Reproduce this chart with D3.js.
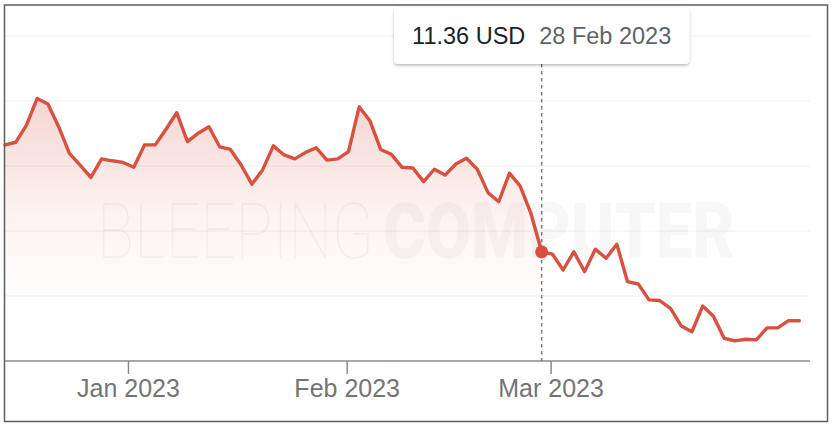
<!DOCTYPE html>
<html>
<head>
<meta charset="utf-8">
<script src="https://cdn.jsdelivr.net/npm/d3@7"></script>
<style>
  html, body { margin: 0; padding: 0; background: #fff; }
  svg { display: block; }
</style>
</head>
<body>
<svg id="chart" width="834" height="428"></svg>
<script>
// ---- data (trading days, closing price in USD) ----
const dates = [
  "2022-12-14","2022-12-15","2022-12-16","2022-12-19","2022-12-20","2022-12-21","2022-12-22","2022-12-23","2022-12-27","2022-12-28","2022-12-29","2022-12-30",
  "2023-01-03","2023-01-04","2023-01-05","2023-01-06","2023-01-09","2023-01-10","2023-01-11","2023-01-12","2023-01-13","2023-01-17","2023-01-18","2023-01-19","2023-01-20","2023-01-23","2023-01-24","2023-01-25","2023-01-26","2023-01-27","2023-01-30","2023-01-31",
  "2023-02-01","2023-02-02","2023-02-03","2023-02-06","2023-02-07","2023-02-08","2023-02-09","2023-02-10","2023-02-13","2023-02-14","2023-02-15","2023-02-16","2023-02-17","2023-02-21","2023-02-22","2023-02-23","2023-02-24","2023-02-27","2023-02-28",
  "2023-03-01","2023-03-02","2023-03-03","2023-03-06","2023-03-07","2023-03-08","2023-03-09","2023-03-10","2023-03-13","2023-03-14","2023-03-15","2023-03-16","2023-03-17","2023-03-20","2023-03-21","2023-03-22","2023-03-23","2023-03-24","2023-03-27","2023-03-28","2023-03-29","2023-03-30","2023-03-31",
  "2023-04-03"
];
const prices = [
  14.65, 14.73, 15.26, 16.08, 15.91, 15.21, 14.39, 14.03, 13.65, 14.22, 14.16, 14.11,
  13.96, 14.65, 14.65, 15.13, 15.64, 14.75, 15.01, 15.21, 14.59, 14.51, 14.03, 13.44, 13.88, 14.62, 14.34, 14.22, 14.42, 14.56, 14.18, 14.22,
  14.44, 15.82, 15.39, 14.51, 14.36, 13.96, 13.94, 13.52, 13.90, 13.72, 14.06, 14.24, 13.90, 13.18, 12.90, 13.78, 13.38, 12.54, 11.36,
  11.29, 10.80, 11.36, 10.75, 11.44, 11.16, 11.59, 10.44, 10.37, 9.88, 9.86, 9.62, 9.08, 8.90, 9.69, 9.38, 8.70, 8.62, 8.67, 8.65, 9.02, 9.02, 9.24,
  9.24
];
const gridValues = [10, 12, 14, 16, 18];
const yDomain = [8, 18];
const tickMonths = ["2023-01-01", "2023-02-01", "2023-03-01"];
const hoverDate = "2023-02-28";
const currency = "USD";
const watermarkLight = "BLEEPING";
const watermarkBold = "COMPUTER";

// ---- layout ----
const W = 834, H = 428;
const plotLeft = 5, plotRight = 810, axisY = 361, plotTop = 36;
const lineColor = "#d8513f";

const svg = d3.select("#chart");
const parseDay = s => new Date(s + "T04:00:00");
const parseMonth = s => new Date(s + "T00:00:00");
const dateObjs = dates.map(parseDay);
const data = dateObjs.map((d, i) => ({ date: d, value: prices[i], i }));

// index-based (trading-day) x positions, mapped via a polylinear time scale
const step = (plotRight - plotLeft) / dates.length;
const x = d3.scaleTime()
  .domain(dateObjs)
  .range(dateObjs.map((d, i) => plotLeft + i * step));
const y = d3.scaleLinear().domain(yDomain).range([axisY, plotTop]);

const defs = svg.append("defs");
const grad = defs.append("linearGradient")
  .attr("id", "areaGrad").attr("gradientUnits", "userSpaceOnUse")
  .attr("x1", 0).attr("x2", 0).attr("y1", y(16.1)).attr("y2", y(9.6));
grad.append("stop").attr("offset", 0).attr("stop-color", lineColor).attr("stop-opacity", 0.24);
grad.append("stop").attr("offset", 0.55).attr("stop-color", lineColor).attr("stop-opacity", 0.07);
grad.append("stop").attr("offset", 1).attr("stop-color", lineColor).attr("stop-opacity", 0);

const shadow = defs.append("filter").attr("id", "shadow")
  .attr("x", "-10%").attr("y", "-30%").attr("width", "120%").attr("height", "180%");
shadow.append("feDropShadow").attr("dx", 0).attr("dy", 1.5).attr("stdDeviation", 1.6)
  .attr("flood-color", "#000").attr("flood-opacity", 0.28);

// background
svg.append("rect").attr("width", W).attr("height", H).attr("fill", "#fff");

// gridlines
svg.append("g").selectAll("line").data(gridValues).join("line")
  .attr("x1", plotLeft).attr("x2", plotRight)
  .attr("y1", d => y(d)).attr("y2", d => y(d))
  .attr("stroke", "#efefef").attr("stroke-width", 1);

// watermark: two words, each squeezed horizontally to its width
function watermarkWord(str, left, width, weight, opacity) {
  const t = svg.append("text")
    .attr("font-family", "Roboto, 'Open Sans', sans-serif")
    .attr("font-size", 78).attr("font-weight", weight)
    .attr("fill", "#000").attr("fill-opacity", opacity)
    .attr("pointer-events", "none")
    .text(str);
  const natural = t.node().getComputedTextLength();
  t.attr("transform", `translate(${left},258) scale(${width / natural},1)`);
}
watermarkWord(watermarkLight, 97, 277, 100, 0.04);
watermarkWord(watermarkBold, 383, 352, 900, 0.032);

// hovered point
const hoverIdx = dates.indexOf(hoverDate);
const hover = data[hoverIdx];

// area up to hovered point
const area = d3.area().x(d => x(d.date)).y0(axisY).y1(d => y(d.value));
svg.append("path").datum(data.slice(0, hoverIdx + 1))
  .attr("d", area).attr("fill", "url(#areaGrad)");

// x axis
const xAxis = d3.axisBottom(x)
  .tickValues(tickMonths.map(parseMonth))
  .tickFormat(d3.timeFormat("%b %Y"))
  .tickSize(13).tickPadding(5).tickSizeOuter(0);
const gx = svg.append("g").attr("transform", `translate(0,${axisY})`).call(xAxis);
gx.select(".domain").attr("stroke", "#8a8a8a").attr("stroke-width", 1.5)
  .attr("d", `M${plotLeft},0H${plotRight}`);
gx.selectAll(".tick line").attr("stroke", "#8a8a8a").attr("stroke-width", 1.5);
gx.selectAll(".tick text")
  .attr("fill", "#747474")
  .attr("font-family", "'Liberation Sans', Arial, Helvetica, sans-serif")
  .attr("font-size", 25);

// hover dashed line
const hx = x(hover.date);
svg.append("line")
  .attr("x1", hx).attr("x2", hx).attr("y1", 64).attr("y2", axisY)
  .attr("stroke", "#7a7a7a").attr("stroke-width", 1.5).attr("stroke-dasharray", "3.5,3.5");

// price line
const line = d3.line().x(d => x(d.date)).y(d => y(d.value));
svg.append("path").datum(data)
  .attr("d", line).attr("fill", "none")
  .attr("stroke", lineColor).attr("stroke-width", 3.4)
  .attr("stroke-linejoin", "round").attr("stroke-linecap", "round");

// hover marker
svg.append("circle").attr("cx", hx).attr("cy", y(hover.value)).attr("r", 6.5).attr("fill", lineColor);

// tooltip
const tip = svg.append("g");
const tipBox = tip.append("rect")
  .attr("y", 8).attr("height", 56).attr("rx", 4)
  .attr("fill", "#fff").attr("filter", "url(#shadow)");
const fontTip = "'Liberation Sans', Arial, Helvetica, sans-serif";
const t1 = tip.append("text").attr("y", 44)
  .attr("font-family", fontTip).attr("font-size", 23.5).attr("fill", "#202124")
  .text(d3.format(".2f")(hover.value) + " " + currency);
const t2 = tip.append("text").attr("y", 44)
  .attr("font-family", fontTip).attr("font-size", 23.5).attr("fill", "#5f6368")
  .text(d3.timeFormat("%-d %b %Y")(hover.date));
const padX = 18, gap = 14;
const w1 = t1.node().getComputedTextLength();
const w2 = t2.node().getComputedTextLength();
const boxW = padX * 2 + w1 + gap + w2;
const boxX = hx - boxW / 2;
tipBox.attr("x", boxX).attr("width", boxW);
t1.attr("x", boxX + padX);
t2.attr("x", boxX + padX + w1 + gap);

// outer frame
svg.append("rect")
  .attr("x", 4.5).attr("y", 5).attr("width", 823).attr("height", 416.5)
  .attr("fill", "none").attr("stroke", "#5c5c5c").attr("stroke-width", 1.5);
</script>
</body>
</html>
